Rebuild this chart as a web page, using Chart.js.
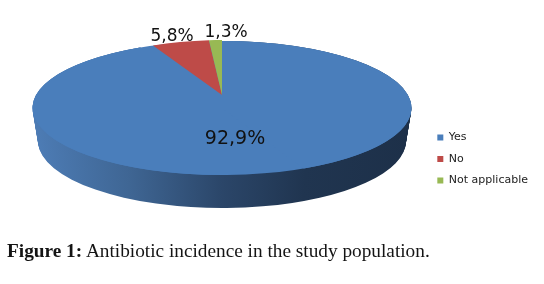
<!DOCTYPE html>
<html><head><meta charset="utf-8">
<style>
html,body{margin:0;padding:0;background:#fff;width:544px;height:284px;overflow:hidden}
#c{position:absolute;left:0;top:0}
#cap{position:absolute;left:7px;top:240px;font:19.3px "Liberation Serif",serif;color:#141414;white-space:nowrap}
#cap b{font-weight:bold}
</style>
<script src="https://cdn.jsdelivr.net/npm/chart.js@4/dist/chart.umd.min.js"></script>
</head><body>
<canvas id="c" width="544" height="284"></canvas>
<div id="cap"><b>Figure 1:</b> Antibiotic incidence in the study population.</div>
<script>
const categories = ["Yes", "No", "Not applicable"];
const values = [92.9, 5.8, 1.3];
const valueLabels = ["92,9%", "5,8%", "1,3%"];
const colors = ["#4a7ebb", "#be4b48", "#98b954"];

const pie3d = {
  id: "pie3d",
  beforeDatasetDraw(chart, args) {
    const ctx = chart.ctx, arcs = args.meta.data, main = arcs[0];
    const face = (arc, cx, cy, sx, sy, turn) => {
      ctx.save();
      ctx.translate(cx, cy);
      ctx.scale(sx / arc.outerRadius, sy / arc.outerRadius);
      if (turn) ctx.rotate(Math.PI);
      ctx.translate(-arc.x, -arc.y);
      arc.draw(ctx);
      ctx.restore();
    };
    // extruded side of the pie, darkening to the right
    const R = main.outerRadius;
    const grad = ctx.createLinearGradient(main.x - R, 0, main.x + R, 0);
    grad.addColorStop(0, "#4d7cb5");
    grad.addColorStop(0.25, "#3f6694");
    grad.addColorStop(0.5, "#2b4669");
    grad.addColorStop(0.72, "#203550");
    grad.addColorStop(1, "#1d3049");
    const opts = main.options;
    main.options = Object.assign(Object.create(null), opts, {backgroundColor: grad, borderWidth: 0});
    for (let d = 33; d >= 0; d--) {
      face(main, 222, 108 + d, 189.5 - 5.5 * d / 33, 67, false);
    }
    main.options = opts;
    // top face
    face(main, 222, 108, 189.5, 67, false);
    face(main, 222, 108, 189.5, 67, true);
    face(arcs[1], 222, 95, 160, 55, false);
    face(arcs[2], 222, 95, 160, 55, false);
    return false;
  },
  afterDatasetsDraw(chart) {
    const ctx = chart.ctx;
    const at = [[235, 139], [172, 37], [226, 33]];
    ctx.save();
    ctx.fillStyle = "#111";
    ctx.textAlign = "center";
    ctx.textBaseline = "middle";
    valueLabels.forEach((t, i) => {
      ctx.font = (i === 0 ? 19 : 17) + 'px "DejaVu Sans"';
      ctx.fillText(t, at[i][0], at[i][1]);
    });
    ctx.restore();
  }
};

new Chart(document.getElementById("c"), {
  type: "pie",
  data: {labels: categories, datasets: [{data: values, backgroundColor: colors, borderWidth: 0}]},
  options: {
    responsive: false,
    animation: false,
    layout: {padding: {top: 34, right: 6}},
    plugins: {
      tooltip: {enabled: false},
      legend: {
        position: "right",
        labels: {boxWidth: 6, boxHeight: 6, padding: 10.5, color: "#222",
                 font: {family: "DejaVu Sans", size: 11}}
      }
    }
  },
  plugins: [pie3d]
});
</script>
</body></html>
